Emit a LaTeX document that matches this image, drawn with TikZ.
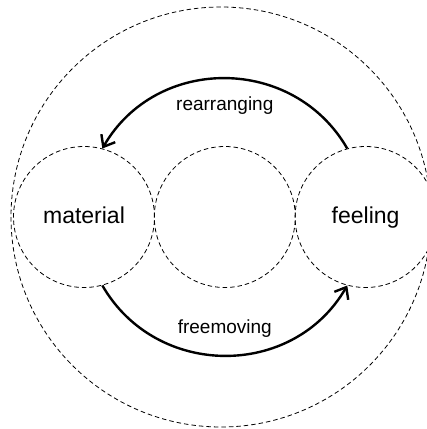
\documentclass[tikz,border=0pt]{standalone}
\usepackage{fontspec}
\setmainfont{Liberation Sans}
\usetikzlibrary{positioning,arrows.meta}
\tikzset{
  ring/.style={circle, draw, dashed, dash pattern=on 4.5pt off 3pt, line width=0.8pt, minimum size=141pt, inner sep=0pt, text height=16pt, text depth=2pt, font=\fontsize{23}{27}\selectfont},
  flow/.style={line width=2.4pt, -{Straight Barb[length=10pt,width=16pt,line width=2.4pt]}},
  flowtext/.style={font=\fontsize{19}{23}\selectfont, inner sep=0pt}
}
\begin{document}
\begin{tikzpicture}[x=1pt,y=1pt]
\useasboundingbox (0,0) rectangle (427,429);
\node[ring, minimum size=420pt, text height=0pt, text depth=0pt] (outer) at (221,212){};
\node[ring] (material) at (84,212){material};
\node[ring, right=-1pt of material] (middle){};
\node[ring, right=-1pt of middle] (feeling){feeling};
\draw[flow](feeling.105) to[out=120, in=60, looseness=1.13] node[flowtext, yshift=-27pt] (rearr){rearranging} (material.75);
\draw[flow](material.285) to[out=-60, in=-120, looseness=1.13] node[flowtext, yshift=27pt] (freem){freemoving} (feeling.255);
\end{tikzpicture}
\end{document}
